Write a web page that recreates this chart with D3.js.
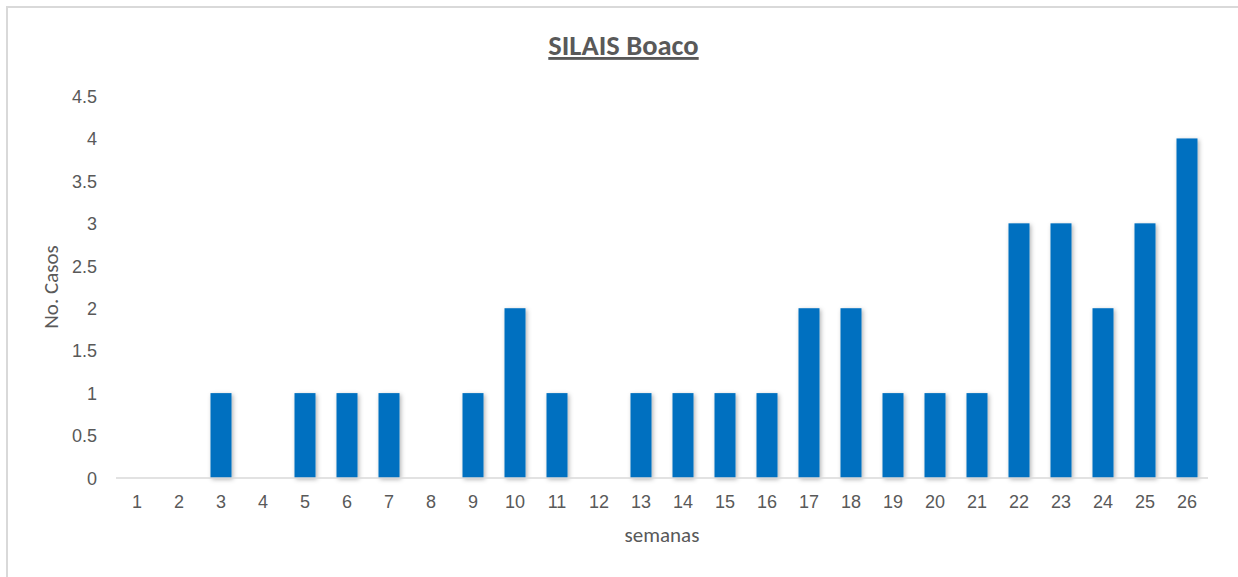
<!DOCTYPE html>
<html><head><meta charset="utf-8">
<script src="https://cdn.jsdelivr.net/npm/d3@7"></script>
<style>body{margin:0;background:#fff}svg{display:block;font-family:Carlito,Calibri,"Open Sans",sans-serif}</style>
</head><body><svg id="c" width="1238" height="577"></svg>
<script>
const weeks = ["1","2","3","4","5","6","7","8","9","10","11","12","13","14","15","16","17","18","19","20","21","22","23","24","25","26"];
const cases = [0,0,1,0,1,1,1,0,1,2,1,0,1,1,1,1,2,2,1,1,1,3,3,2,3,4];
const yTicks = [0,0.5,1,1.5,2,2.5,3,3.5,4,4.5];

const svg = d3.select("#c");
const defs = svg.append("defs");
const f = defs.append("filter").attr("id","sh").attr("x","-50%").attr("y","-10%").attr("width","200%").attr("height","120%");
f.append("feDropShadow").attr("dx",1.5).attr("dy",1.5).attr("stdDeviation",2).attr("flood-color","#000").attr("flood-opacity",0.3);

svg.append("rect").attr("x",7).attr("y",7).attr("width",1240).attr("height",580)
  .attr("fill","none").attr("stroke","#d9d9d9").attr("stroke-width",2);

const x = d3.scaleBand().domain(weeks).range([116,1208]).paddingInner(0.5).paddingOuter(0.25);
const y = d3.scaleLinear().domain([0,4.5]).range([478,96]);

svg.append("g").selectAll("rect").data(cases).join("rect")
  .attr("x",(d,i)=>x(weeks[i])).attr("width",x.bandwidth())
  .attr("y",d=>y(d)).attr("height",d=>y(0)-y(d))
  .attr("fill","#0070c0").attr("filter","url(#sh)")
  .style("display",d=>d>0?null:"none");

svg.append("line").attr("x1",116).attr("x2",1208).attr("y1",y(0)).attr("y2",y(0))
  .attr("stroke","#d9d9d9").attr("stroke-width",1.5);

const ya = d3.axisLeft(y).tickValues(yTicks).tickSize(0).tickPadding(0).tickFormat(d=>String(d));
const gy = svg.append("g").attr("transform","translate(97,0)").call(ya);
gy.select(".domain").remove();
gy.selectAll("text").attr("fill","#595959").style("font-size","18px").attr("dy","0.35em");

const xa = d3.axisBottom(x).tickSize(0).tickPadding(0);
const gx = svg.append("g").attr("transform","translate(0,508)").call(xa);
gx.select(".domain").remove();
gx.selectAll("text").attr("fill","#595959").style("font-size","18px").attr("dy","0");

svg.append("text").attr("x",623.5).attr("y",55).attr("text-anchor","middle")
  .attr("fill","#595959").style("font-size","28.5px").style("font-weight","bold")
  .style("text-decoration","underline").text("SILAIS Boaco");

svg.append("text").attr("x",662).attr("y",542).attr("text-anchor","middle")
  .attr("fill","#595959").style("font-size","21px").text("semanas");

svg.append("text").attr("transform","translate(58,287) rotate(-90)").attr("text-anchor","middle")
  .attr("fill","#595959").style("font-size","21px").text("No. Casos");
</script></body></html>
